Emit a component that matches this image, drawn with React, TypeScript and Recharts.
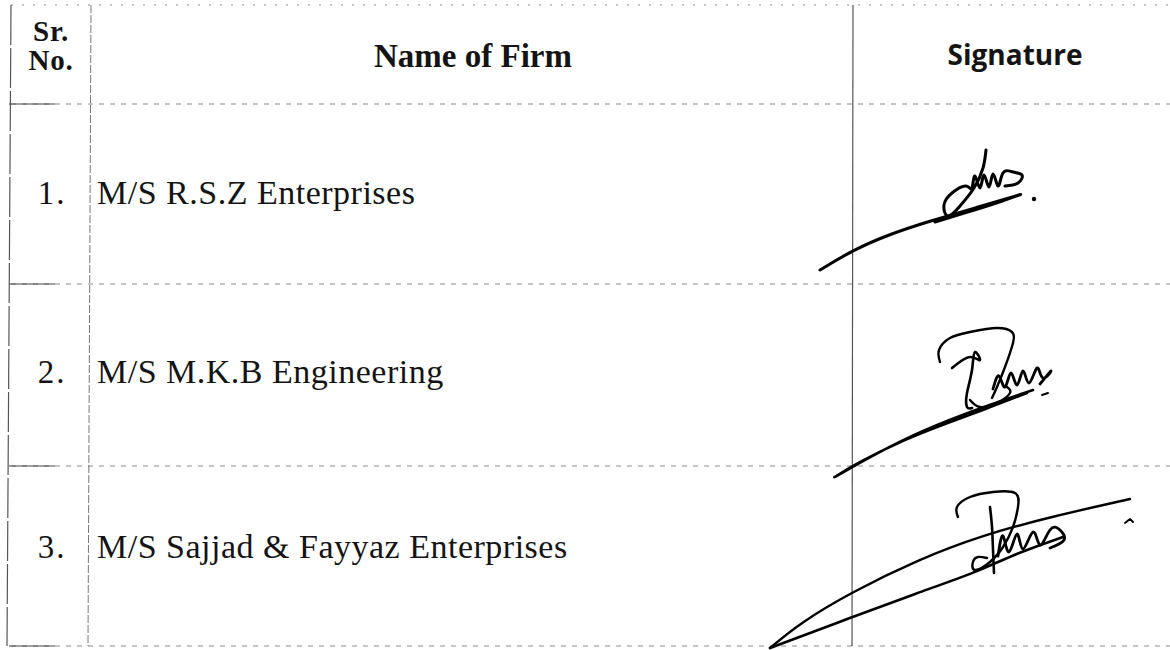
import React from "react";
import {
  ComposedChart,
  XAxis,
  YAxis,
  Line,
  Scatter,
  ReferenceLine,
  ReferenceDot,
} from "recharts";

// table content
const headerSr = ["Sr.", "No."];
const headers = ["Name of Firm", "Signature"];
const serials = ["1.", "2.", "3."];
const firms = [
  "M/S R.S.Z Enterprises",
  "M/S M.K.B Engineering",
  "M/S Sajjad & Fayyaz Enterprises",
];

// signature strokes (page coords)
const sig1Swoosh = [
  { x: 820, y: 270 }, { x: 853, y: 250 }, { x: 890, y: 234 }, { x: 930, y: 221 },
  { x: 975, y: 208 }, { x: 1022, y: 194 }, { x: 1022, y: 194 }, { x: 1000, y: 202 },
  { x: 965, y: 213 }, { x: 935, y: 222 },
];
const sig1Letters = [
  { x: 986, y: 150 }, { x: 983, y: 168 }, { x: 974, y: 188 }, { x: 960, y: 206 },
  { x: 948, y: 216 }, { x: 944, y: 205 }, { x: 952, y: 193 }, { x: 966, y: 186 },
  { x: 972, y: 188 }, { x: 975, y: 176 }, { x: 980, y: 188 }, { x: 984, y: 175 },
  { x: 989, y: 187 }, { x: 993, y: 174 }, { x: 998, y: 186 }, { x: 1003, y: 173 },
  { x: 1013, y: 172 }, { x: 1022, y: 175 }, { x: 1018, y: 183 }, { x: 1005, y: 186 },
];
const sig2Loop = [
  { x: 940, y: 362 }, { x: 939, y: 350 }, { x: 950, y: 338 }, { x: 970, y: 332 },
  { x: 997, y: 328 }, { x: 1012, y: 332 }, { x: 1013, y: 343 }, { x: 1005, y: 367 },
  { x: 997, y: 387 }, { x: 992, y: 398 },
];
const sig2Stem = [
  { x: 952, y: 368 }, { x: 970, y: 357 }, { x: 980, y: 360 }, { x: 975, y: 352 },
  { x: 972, y: 370 }, { x: 967, y: 393 }, { x: 967, y: 407 }, { x: 972, y: 408 },
];
const sig2Bowl = [
  { x: 970, y: 400 }, { x: 980, y: 407 }, { x: 997, y: 403 }, { x: 1010, y: 393 },
  { x: 1007, y: 387 },
];
const sig2Scribble = [
  { x: 993, y: 389 }, { x: 999, y: 376 }, { x: 1005, y: 387 }, { x: 1011, y: 373 },
  { x: 1017, y: 385 }, { x: 1023, y: 371 }, { x: 1029, y: 383 }, { x: 1037, y: 368 },
  { x: 1043, y: 378 }, { x: 1051, y: 371 }, { x: 1040, y: 384 },
];
const sig2Swoosh = [
  { x: 1033, y: 390 }, { x: 980, y: 408 }, { x: 923, y: 430 }, { x: 877, y: 453 },
  { x: 833, y: 478 }, { x: 833, y: 478 }, { x: 857, y: 463 }, { x: 903, y: 440 },
  { x: 950, y: 422 }, { x: 983, y: 410 }, { x: 1027, y: 393 },
];
const sig2Dash = [{ x: 1042, y: 395 }, { x: 1048, y: 393 }];
const sig3Upper = [
  { x: 770, y: 648 }, { x: 800, y: 623 }, { x: 850, y: 593 }, { x: 917, y: 560 },
  { x: 983, y: 535 }, { x: 1050, y: 517 }, { x: 1130, y: 499 },
];
const sig3Lower = [
  { x: 770, y: 648 }, { x: 850, y: 618 }, { x: 917, y: 593 }, { x: 977, y: 572 },
  { x: 1017, y: 553 }, { x: 1063, y: 537 },
];
const sig3Loop = [
  { x: 958, y: 517 }, { x: 957, y: 507 }, { x: 970, y: 497 }, { x: 993, y: 492 },
  { x: 1015, y: 493 }, { x: 1018, y: 507 }, { x: 1013, y: 527 }, { x: 1003, y: 547 },
  { x: 990, y: 562 }, { x: 975, y: 570 }, { x: 973, y: 562 }, { x: 978, y: 557 },
  { x: 987, y: 558 },
];
const sig3Stem = [
  { x: 990, y: 507 }, { x: 992, y: 527 }, { x: 993, y: 550 }, { x: 994, y: 573 },
];
const sig3Scribble = [
  { x: 998, y: 556 }, { x: 1003, y: 536 }, { x: 1009, y: 552 }, { x: 1017, y: 534 },
  { x: 1023, y: 549 }, { x: 1033, y: 532 }, { x: 1040, y: 545 }, { x: 1050, y: 530 },
  { x: 1060, y: 530 }, { x: 1064, y: 540 }, { x: 1050, y: 548 },
];
const sig3Caret = [{ x: 1125, y: 523 }, { x: 1130, y: 519 }, { x: 1133, y: 522 }];

const W = 1170;
const H = 650;

// table grid (slightly skewed, like the scan)
const rowLines = [5, 104, 284, 466, 646];
const leftBorder = [{ x: 11, y: 5 }, { x: 7, y: 646 }];
const col1 = [{ x: 91, y: 5 }, { x: 88, y: 646 }];
const col2 = [{ x: 853, y: 5 }, { x: 852, y: 646 }];
const rowBaselines = [204, 383, 558];

const serif = "'Liberation Serif', 'Times New Roman', serif";
const sans = "'Open Sans', 'Noto Sans', sans-serif";

type Cell = { x: number; y: number; text: string; size: number; bold?: boolean; font: string; anchor: string; spacing?: number };

const cells: Cell[] = [
  ...headerSr.map((t, i) => ({ x: 51, y: [41, 70][i], text: t, size: 29, bold: true, font: serif, anchor: "middle", spacing: 0.8 })),
  { x: 473, y: 67, text: headers[0], size: 33, bold: true, font: serif, anchor: "middle" },
  { x: 1015, y: 65, text: headers[1], size: 28, bold: true, font: sans, anchor: "middle" },
  ...serials.map((t, i) => ({ x: 52, y: rowBaselines[i], text: t, size: 33, font: serif, anchor: "middle", spacing: 2 })),
  ...firms.map((t, i) => ({ x: 97, y: rowBaselines[i], text: t, size: 34, font: serif, anchor: "start", spacing: 0.5 })),
];

const renderText = (props: any) => {
  const p = props.payload as Cell;
  return (
    <text
      x={props.cx}
      y={props.cy}
      textAnchor={p.anchor as any}
      fontFamily={p.font}
      fontSize={p.size}
      fontWeight={p.bold ? 700 : 400}
      letterSpacing={p.spacing || 0}
      fill="#141414"
    >
      {p.text}
    </text>
  );
};

const strokes = [
  { data: sig1Swoosh, w: 3, curve: "basis" },
  { data: sig1Letters, w: 3, curve: "natural" },
  { data: sig2Loop, w: 2.4, curve: "natural" },
  { data: sig2Stem, w: 2.6, curve: "natural" },
  { data: sig2Bowl, w: 2.4, curve: "natural" },
  { data: sig2Scribble, w: 2.8, curve: "natural" },
  { data: sig2Swoosh, w: 2.6, curve: "basis" },
  { data: sig2Dash, w: 2, curve: "linear" },
  { data: sig3Upper, w: 2.4, curve: "basis" },
  { data: sig3Lower, w: 2.6, curve: "basis" },
  { data: sig3Loop, w: 2.4, curve: "natural" },
  { data: sig3Stem, w: 2.6, curve: "natural" },
  { data: sig3Scribble, w: 2.8, curve: "natural" },
  { data: sig3Caret, w: 2, curve: "linear" },
];

export default function App() {
  return (
    <div style={{ position: "absolute", left: 0, top: 0, width: W, height: H, background: "#fff" }}>
      <ComposedChart width={W} height={H} margin={{ top: 0, right: 0, bottom: 0, left: 0 }}>
        <XAxis type="number" dataKey="x" domain={[0, W]} hide allowDataOverflow />
        <YAxis type="number" dataKey="y" domain={[0, H]} reversed hide allowDataOverflow />

        {rowLines.map((y, i) => (
          <ReferenceLine
            key={`r${i}`}
            segment={[{ x: 11, y }, { x: W, y }]}
            stroke="#8a8a8a"
            strokeWidth={1}
            strokeDasharray={i === 0 ? "2 9" : "5 6"}
          />
        ))}
        {rowLines.slice(1).map((y, i) => (
          <ReferenceLine key={`rs${i}`} segment={[{ x: 9, y }, { x: 55, y }]} stroke="#444" strokeWidth={1.2} />
        ))}
        <ReferenceLine segment={leftBorder} stroke="#555" strokeWidth={1.2} strokeDasharray="40 3" />
        <ReferenceLine segment={col1} stroke="#777" strokeWidth={1} strokeDasharray="8 2" />
        <ReferenceLine segment={col2} stroke="#555" strokeWidth={1.2} />

        {strokes.map((s, i) => (
          <Line
            key={`s${i}`}
            data={s.data}
            dataKey="y"
            type={s.curve as any}
            stroke="#000"
            strokeWidth={s.w}
            strokeLinecap="round"
            strokeLinejoin="round"
            dot={false}
            activeDot={false}
            isAnimationActive={false}
          />
        ))}
        <ReferenceDot x={1034} y={199} r={2.2} fill="#000" stroke="none" />

        <Scatter data={cells} shape={renderText} isAnimationActive={false} />
      </ComposedChart>
    </div>
  );
}
